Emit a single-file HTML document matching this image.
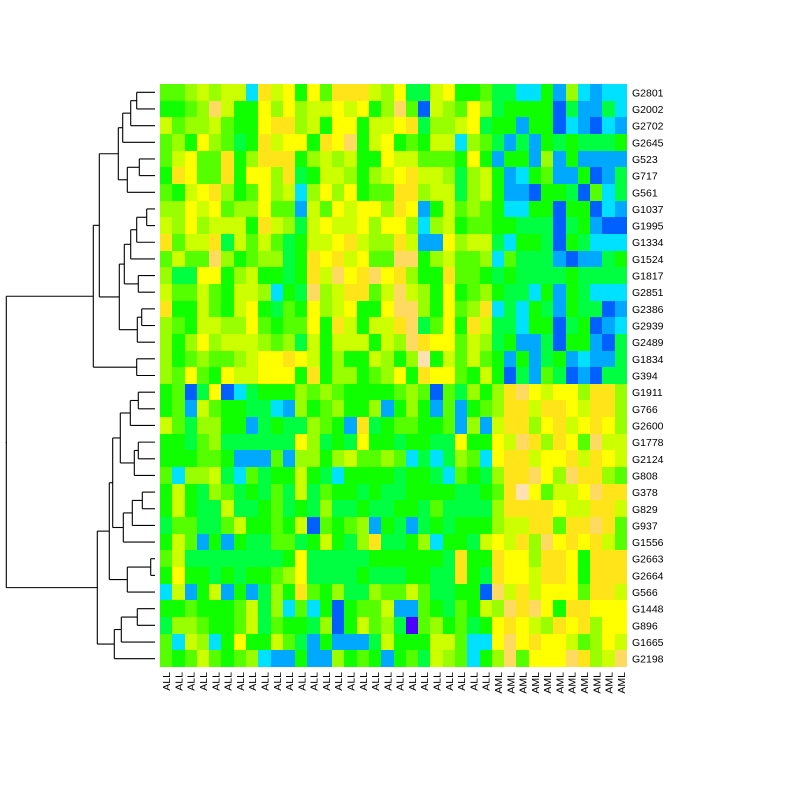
<!DOCTYPE html>
<html><head><meta charset="utf-8"><style>
html,body{margin:0;padding:0;background:#fff;}
svg{display:block;}
text{font-family:"Liberation Sans",sans-serif;font-size:10.5px;fill:#000;}
</style></head>
<body>
<svg id="chart" width="800" height="800" xmlns="http://www.w3.org/2000/svg">
<g id="cells"></g>
<g id="dendro"></g>
<g id="rlabels"></g>
<g id="clabels"></g>
</svg>
<script>
const rowLabels = ["G2801","G2002","G2702","G2645","G523","G717","G561","G1037","G1995","G1334","G1524","G1817","G2851","G2386","G2939","G2489","G1834","G394","G1911","G766","G2600","G1778","G2124","G808","G378","G829","G937","G1556","G2663","G2664","G566","G1448","G896","G1665","G2198"];
const colLabels = ["ALL","ALL","ALL","ALL","ALL","ALL","ALL","ALL","ALL","ALL","ALL","ALL","ALL","ALL","ALL","ALL","ALL","ALL","ALL","ALL","ALL","ALL","ALL","ALL","ALL","ALL","ALL","AML","AML","AML","AML","AML","AML","AML","AML","AML","AML","AML"];
const values = [
[6,6,7,8,7,8,8,3,10,8,9,5,9,6,10,10,10,8,7,9,4,4,8,9,5,5,6,4,4,3,3,5,2,7,3,2,3,3],
[5,5,6,7,11,8,5,5,9,7,9,7,8,8,9,8,9,5,7,11,6,1,8,7,6,9,7,4,5,5,5,5,1,4,2,2,4,3],
[8,6,7,7,8,6,5,5,9,10,10,7,8,5,9,9,5,8,8,9,10,4,7,7,8,9,4,5,5,2,5,5,1,3,2,1,3,2],
[6,7,5,9,7,6,4,5,10,8,9,9,5,10,9,11,5,8,9,5,6,5,8,8,3,7,6,4,2,4,2,5,4,5,4,4,4,5],
[6,8,9,6,6,10,5,7,10,10,10,5,7,8,7,8,5,5,9,8,8,6,6,6,5,9,5,2,5,5,2,7,2,5,2,2,2,2],
[5,10,9,6,6,10,5,9,9,7,10,4,5,8,8,7,5,7,8,9,10,8,8,7,4,7,8,5,2,3,5,6,2,2,5,1,2,4],
[6,5,8,9,10,7,5,6,9,7,8,3,7,9,7,9,5,6,6,10,10,7,8,8,4,7,8,5,2,2,1,5,5,4,1,6,3,4],
[7,7,9,8,9,6,7,7,9,6,6,2,8,6,9,8,9,9,7,10,9,2,5,8,6,7,6,5,3,3,5,5,1,5,5,1,3,2],
[8,7,9,7,8,8,8,5,10,8,7,4,8,9,8,8,9,7,9,9,7,3,7,8,5,6,6,5,5,4,4,4,1,4,5,2,1,1],
[10,6,8,8,10,4,8,6,8,6,4,5,8,8,9,10,8,7,7,10,8,2,2,9,7,8,8,4,3,5,5,4,1,5,4,3,3,3],
[6,8,6,6,11,7,5,6,7,7,4,5,10,9,10,8,9,6,6,11,11,5,7,8,6,6,7,3,6,4,4,4,2,1,2,2,4,5],
[7,4,4,9,9,5,7,8,5,5,4,5,10,8,11,9,10,11,9,10,7,5,5,10,6,6,5,4,5,4,4,4,4,5,4,4,4,4],
[8,6,6,8,6,5,8,8,7,3,5,4,11,7,8,10,10,6,8,11,8,7,5,9,5,6,7,5,4,4,3,5,2,5,4,3,3,3],
[10,5,5,8,6,5,8,9,5,4,6,5,9,7,8,9,5,5,9,11,11,7,5,9,6,7,10,3,4,3,5,4,2,5,4,4,1,2],
[7,6,5,8,8,7,7,9,6,5,6,6,9,5,10,8,5,8,8,10,11,4,6,9,5,10,8,4,4,3,5,5,1,4,5,1,2,3],
[7,5,7,9,7,8,8,8,7,6,7,4,8,5,8,8,8,5,8,7,11,10,9,9,6,8,7,4,5,2,2,4,1,5,5,2,1,4],
[7,5,6,7,6,6,7,8,9,9,10,9,8,5,7,5,5,8,7,5,7,12,5,8,6,8,6,5,2,5,2,4,5,2,3,2,2,4],
[7,6,9,6,5,9,8,8,9,9,9,5,10,5,7,7,5,6,7,9,5,10,9,9,6,5,8,5,1,4,2,6,4,1,2,1,4,4],
[5,6,1,4,9,1,3,4,5,5,5,7,6,7,6,5,5,5,5,6,7,6,1,6,4,7,5,7,10,11,9,8,9,9,7,10,10,7],
[5,6,2,8,6,5,5,4,4,3,2,7,5,6,7,5,5,7,2,5,7,5,2,6,2,5,6,7,10,10,8,10,10,9,8,10,10,7],
[8,6,4,7,7,5,5,2,4,5,4,4,7,6,5,2,10,4,5,6,6,5,5,6,2,7,2,8,10,10,7,9,10,8,9,10,9,7],
[5,5,4,6,7,4,4,4,4,4,4,9,7,4,5,4,9,5,5,4,5,5,4,4,9,5,5,9,8,11,10,7,10,9,6,11,8,8],
[5,5,5,6,6,5,2,2,2,6,2,7,7,5,7,8,6,6,7,6,3,4,3,4,7,6,3,9,10,10,8,9,9,10,8,10,9,8],
[6,3,7,7,8,4,3,6,4,5,5,8,5,4,3,5,5,5,5,4,5,5,4,3,6,5,4,7,10,10,11,9,7,11,10,10,7,6],
[5,8,5,4,7,6,4,5,4,6,4,8,4,6,5,5,4,5,4,4,5,5,5,5,4,4,5,6,10,12,9,6,8,8,9,11,10,10],
[5,8,5,4,4,8,4,4,5,6,4,5,4,7,4,4,5,4,4,5,5,4,6,4,4,4,4,7,10,10,10,10,9,8,8,10,10,8],
[4,6,6,4,4,6,8,5,5,6,5,8,1,6,5,6,7,2,5,4,2,4,5,4,5,5,5,7,8,8,10,10,6,10,10,11,10,6],
[5,8,6,2,5,2,5,4,4,6,6,4,5,8,5,4,7,10,4,4,5,7,3,5,5,4,8,9,8,10,7,11,9,10,9,10,8,6],
[6,8,4,4,4,4,4,4,4,4,5,9,4,4,4,4,4,5,5,5,5,5,5,4,10,5,5,10,9,9,7,10,10,9,5,10,10,10],
[5,9,5,5,4,5,4,5,5,6,7,9,4,4,4,4,5,4,4,4,5,5,4,4,10,5,4,10,9,9,8,10,10,9,5,10,10,10],
[3,8,2,5,8,2,5,2,4,7,5,10,6,5,7,4,4,7,6,6,8,6,4,4,5,5,1,11,8,10,8,9,9,9,6,10,10,8],
[5,5,6,5,5,5,6,8,4,7,3,6,3,5,1,5,6,6,8,2,2,6,5,4,6,5,8,7,11,10,11,9,5,10,10,9,9,9],
[4,7,7,6,5,5,6,8,4,6,5,5,4,7,1,5,8,6,7,4,0,6,7,5,6,4,5,9,10,9,8,7,10,9,10,7,9,9],
[6,3,8,7,3,5,9,5,5,8,6,4,2,5,2,2,2,4,8,5,5,5,8,8,6,3,3,9,11,9,10,9,9,8,6,7,9,8],
[6,5,6,8,6,5,6,7,3,2,2,5,2,2,7,5,6,5,2,5,6,4,8,7,6,3,5,7,11,6,9,9,9,11,10,7,8,11]
];
const tree = [6.3,
  [93.3,
    [99.3,
      [118.3, [122.7,[130.7,[136.7,0,1],2],3], [127.3,[139.3,4,5],6]],
      [119.3, [124.3,[130.7,[136.7,[146.7,7,8],9],10],[138.3,11,12]], [137.3,[141.7,13,14],15]]
    ],
    [136.7,16,17]
  ],
  [97.3,
    [109.3,
      [112.7, [120.3,[130.3,[138.3,18,19],20],[134.3,[138.3,21,22],23]], [123.3,[132.3,[142.3,24,25],26],27]],
      [127.3,[150.7,28,29],30]
    ],
    [114.3,[121.3,[137.3,31,32],33],34]
  ]
];
const palette = ["#4C00FF","#0060FF","#00A8FF","#00E0FF","#00FF40","#10FF00","#55FF00","#99FF00","#CCFF00","#FFFF00","#FFE41A","#FFDA60","#FFE0B0"];
const X0=160, X1=627, Y0=84, Y1=667, LEAFX=155;
const NS="http://www.w3.org/2000/svg";
const nR=rowLabels.length, nC=colLabels.length;
const cw=(X1-X0)/nC, rh=(Y1-Y0)/nR;
function xPos(c){return X0+c*cw;}
function yPos(r){return Y0+r*rh;}
function colorOf(v){const i=Math.max(0,Math.min(palette.length-1,Math.round(v)));return palette[i];}
function mk(tag,attrs,parent){const e=document.createElementNS(NS,tag);for(const k in attrs)e.setAttribute(k,attrs[k]);parent.appendChild(e);return e;}
const gc=document.getElementById('cells');
for(let r=0;r<nR;r++){for(let c=0;c<nC;c++){
  const x=Math.round(xPos(c)), x2=Math.round(xPos(c+1)), y=Math.round(yPos(r)), y2=Math.round(yPos(r+1));
  const e=mk('rect',{x:x,y:y,width:x2-x,height:y2-y,fill:colorOf(values[r][c])},gc);
  
  
}}
const gr=document.getElementById('rlabels');
rowLabels.forEach((t,r)=>{
  const e=mk('text',{x:632,y:yPos(r+0.5)+4},gr);e.textContent=t;
  
  
});
const gl=document.getElementById('clabels');
colLabels.forEach((t,c)=>{
  const cx=xPos(c+0.5)+4, cy=672;
  const e=mk('text',{x:cx,y:cy,'text-anchor':'end',transform:'rotate(-90 '+cx+' '+cy+')'},gl);e.textContent=t;
  
  
});
const gd=document.getElementById('dendro');
function line(x1,y1,x2,y2){const e=mk('line',{x1:x1,y1:y1,x2:x2,y2:y2,stroke:'#000','stroke-width':1.1},gd);
  
  }
function draw(n){
  if(typeof n==='number') return {x:LEAFX,y:yPos(n+0.5)};
  const a=draw(n[1]), b=draw(n[2]), h=n[0];
  line(h,a.y,a.x,a.y); line(h,b.y,b.x,b.y); line(h,a.y,h,b.y);
  return {x:h,y:(a.y+b.y)/2};
}
const root=draw(tree);
line(root.x,root.y,root.x,root.y+1);
</script>
</body></html>
